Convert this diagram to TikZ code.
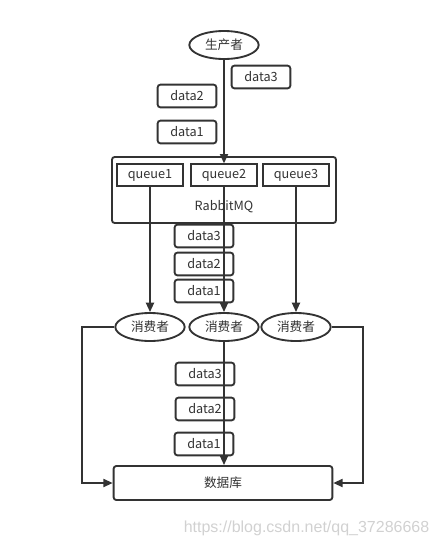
\documentclass[tikz,border=0pt]{standalone}
\usepackage{fontspec}
\setmainfont{Noto Sans CJK SC}
\newfontfamily\markfont{Liberation Sans}
\usetikzlibrary{arrows.meta,shapes.geometric}

\definecolor{ink}{HTML}{333333}

\begin{document}
\begin{tikzpicture}[
  x=0.75pt, y=-0.75pt,
  every node/.style={font=\fontsize{9.5}{11}\selectfont, text=ink},
  box/.style={draw=ink, line width=1.4pt, rounded corners=2pt, fill=white, inner sep=0pt},
  datum/.style={box, minimum width=44pt, minimum height=17pt},
  queuebox/.style={box, rounded corners=0pt, minimum width=50pt, minimum height=16pt},
  role/.style={ellipse, draw=ink, line width=1.4pt, fill=white, inner sep=0pt, minimum width=52pt, minimum height=21pt},
  flow/.style={draw=ink, line width=1.4pt, -{Triangle[length=7pt, width=6pt]}}
]
\useasboundingbox (0,0) rectangle (442,547);

% ---- producer and the data it sends ----
\node[role] (prod) at (224,45) {生产者};
\node[datum] (in3) at (261,77) {data3};
\node[datum] (in2) at (187,96) {data2};
\node[datum] (in1) at (187,132) {data1};

% ---- broker with its queues ----
\node[box, minimum width=168pt, minimum height=49.5pt] (mq) at (224,190) {};
\node at (224,207) {RabbitMQ};
\node[queuebox] (q1) at (150,175) {queue1};
\node[queuebox] (q2) at (224,175) {queue2};
\node[queuebox] (q3) at (296,175) {queue3};

% ---- data taken from the queues ----
\node[datum] (out3) at (204,236) {data3};
\node[datum] (out2) at (204,264) {data2};
\node[datum] (out1) at (204,291) {data1};

% ---- consumers ----
\node[role] (c1) at (150,327) {消费者};
\node[role] (c2) at (224,327) {消费者};
\node[role] (c3) at (296,327) {消费者};

% ---- data written to the database ----
\node[datum] (db3) at (205,374) {data3};
\node[datum] (db2) at (205,409) {data2};
\node[datum] (db1) at (204,444) {data1};
\node[box, minimum width=164pt, minimum height=25.5pt] (db) at (223,483) {数据库};

% ---- connectors ----
\draw[flow] (prod.south) -- (q2.north);
\draw[flow] (q1.south) -- (c1.north);
\draw[flow] (q2.south) -- (c2.north);
\draw[flow] (q3.south) -- (c3.north);
\draw[flow] (c2.south) -- (c2.south |- db.north);
\draw[flow] (c1.west) -- ++(-32,0) |- (db.west);
\draw[flow] (c3.east) -- ++(31,0) |- (db.east);

% ---- watermark ----
\node[text=black!18, font=\fontsize{12}{14}\selectfont\markfont, anchor=east] (mark) at (434,528) {https://blog.csdn.net/qq\_37286668};

\end{tikzpicture}
\end{document}
